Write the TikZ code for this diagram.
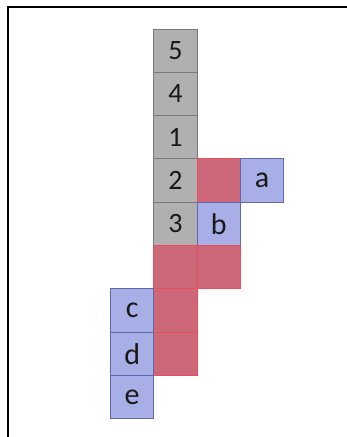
\documentclass[tikz,border=0pt]{standalone}
\usepackage{fontspec}
\setmainfont{Carlito}
\definecolor{grayfill}{RGB}{176,176,176}
\definecolor{graydraw}{RGB}{120,120,120}
\definecolor{redfill}{RGB}{204,104,120}
\definecolor{reddraw}{RGB}{232,78,92}
\definecolor{bluefill}{RGB}{168,174,230}
\definecolor{bluedraw}{RGB}{96,104,176}
\begin{document}
\begin{tikzpicture}[x=1pt,y=-1pt,
  cell/.style={minimum width=43.3pt,minimum height=43.3pt,inner sep=0pt,outer sep=0pt,line width=1pt,text=black!90},
  digit/.style={font=\fontsize{28}{28}\selectfont},
  letter/.style={font=\fontsize{30}{30}\selectfont},
  graycell/.style={cell,digit,fill=grayfill,draw=graydraw},
  redcell/.style={cell,fill=redfill,draw=reddraw},
  bluecell/.style={cell,letter,fill=bluefill,draw=bluedraw}]
\useasboundingbox (0,0) rectangle (347,437);
\fill[white] (0,0) rectangle (347,437);
\coordinate (tl) at (7.5,6.5);
\coordinate (tr) at (347,6.5);
\coordinate (bl) at (7.5,437);
\draw[line width=2pt] (tr) -- (tl) -- (bl);
\node[graycell] (g5) at (175.45,50.65) {5};
\node[graycell] (g4) at (175.45,93.95) {4};
\node[graycell] (g1) at (175.45,137.25) {1};
\node[graycell] (g2) at (175.45,180.55) {2};
\node[graycell] (g3) at (175.45,223.85) {3};
\node[redcell] (r1) at (218.75,180.55) {};
\node[bluecell] (a) at (262.05,180.55) {a};
\node[bluecell] (b) at (218.75,223.85) {b};
\node[redcell] (r2) at (175.45,267.15) {};
\node[redcell] (r3) at (218.75,267.15) {};
\node[redcell] (r4) at (175.45,310.45) {};
\node[redcell] (r5) at (175.45,353.75) {};
\node[bluecell] (c) at (132.15,310.45) {c};
\node[bluecell] (d) at (132.15,353.75) {d};
\node[bluecell] (e) at (132.15,397.05) {e};
\end{tikzpicture}
\end{document}
